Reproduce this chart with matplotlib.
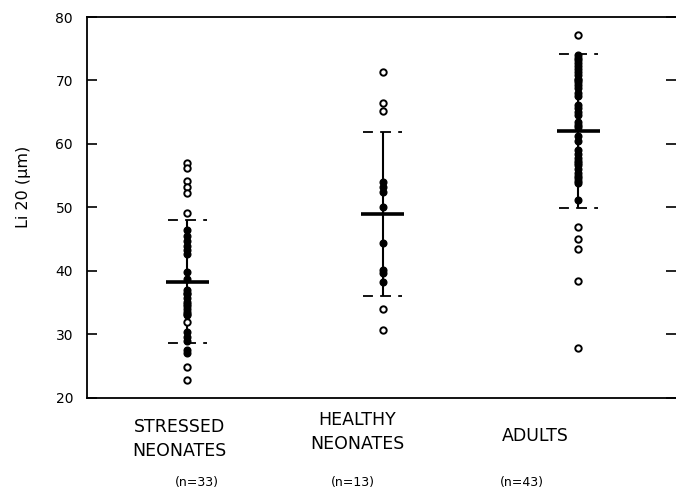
import matplotlib
matplotlib.use('Agg')
import matplotlib.pyplot as plt

# group names, sample sizes and summary stats (mean, SD)
groups = ['STRESSED\nNEONATES', 'HEALTHY\nNEONATES', 'ADULTS']
n_labels = ['(n=33)', '(n=13)', '(n=43)']
group_x = [1, 2, 3]
means = [38.3, 49.0, 62.0]
sds = [9.7, 12.9, 12.1]

# individual values (um); open = hollow symbols, filled = solid dots
stressed_open = [57.0, 56.2, 54.2, 53.2, 52.3, 49.1, 32.0, 24.9, 22.8]
stressed_filled = [46.5, 45.5, 44.7, 43.9, 43.3, 42.7, 39.8, 38.8, 37.0, 36.6,
                   36.3, 35.7, 35.1, 34.8, 34.5, 34.0, 33.5, 33.3, 33.0, 30.4,
                   29.6, 28.9, 27.6, 27.1]
healthy_open = [71.3, 66.5, 65.2, 34.0, 30.7]
healthy_filled = [54.0, 53.2, 52.4, 50.1, 44.4, 40.2, 39.7, 38.3]
adults_open = [77.2, 46.9, 45.0, 43.5, 38.4, 27.9]
adults_filled = [74.0, 73.6, 73.2, 72.8, 72.3, 71.8, 71.3, 70.8, 70.3, 70.0,
                 69.8, 69.3, 68.8, 68.0, 67.5, 66.1, 65.6, 65.1, 64.6, 63.5,
                 63.0, 62.6, 61.3, 60.5, 59.1, 58.5, 57.8, 57.4, 57.0, 56.7,
                 56.0, 55.4, 55.0, 54.6, 54.2, 53.9, 51.2]

open_vals = [stressed_open, healthy_open, adults_open]
filled_vals = [stressed_filled, healthy_filled, adults_filled]

label_x = [0.96, 1.87, 2.78]
label_y = [-0.108, -0.089, -0.100]
n_x = [1.05, 1.85, 2.71]

plt.rcParams['font.family'] = 'DejaVu Sans'

fig = plt.figure(figsize=(6.76, 4.9), dpi=100)
ax = fig.add_axes([0.1287, 0.1878, 0.8713, 0.7775])

for i in range(3):
    x = group_x[i]
    lo = means[i] - sds[i]
    hi = means[i] + sds[i]
    ax.vlines(x, lo, hi, color='k', lw=1.5, zorder=1)
    ax.hlines(means[i], x - 0.11, x + 0.11, color='k', lw=2.6, zorder=2)
    for v in (lo, hi):
        ax.hlines(v, x - 0.1, x + 0.1, color='k', lw=1.3,
                  linestyles=(0.5, (6, 4)), zorder=2)
    ax.plot([x] * len(filled_vals[i]), filled_vals[i], 'o', color='k',
            ms=4.8, zorder=3)
    ax.plot([x] * len(open_vals[i]), open_vals[i], 'o', mfc='white',
            mec='k', mew=1.4, ms=4.6, zorder=3)

ax.set_xlim(0.488, 3.5)
ax.set_ylim(20, 80)
ax.set_yticks([20, 30, 40, 50, 60, 70, 80])
ax.set_xticks([])
ax.tick_params(axis='y', direction='in', length=7, width=1.2, pad=10,
               labelsize=10, right=True)
ax.spines['right'].set_visible(False)
for s in ('left', 'top', 'bottom'):
    ax.spines[s].set_linewidth(1.3)

xform = ax.get_xaxis_transform()
for i in range(3):
    ax.text(label_x[i], label_y[i], groups[i], transform=xform, ha='center',
            va='center', fontsize=12.5, linespacing=1.45)
    ax.text(n_x[i], -0.223, n_labels[i], transform=xform, ha='center',
            va='center', fontsize=9)

fig.text(24 / 676, 1 - 187 / 490, 'Li 20 (µm)', rotation=90,
         ha='center', va='center', fontsize=11.5)

plt.savefig('out.png', dpi=100)
plt.close(fig)
